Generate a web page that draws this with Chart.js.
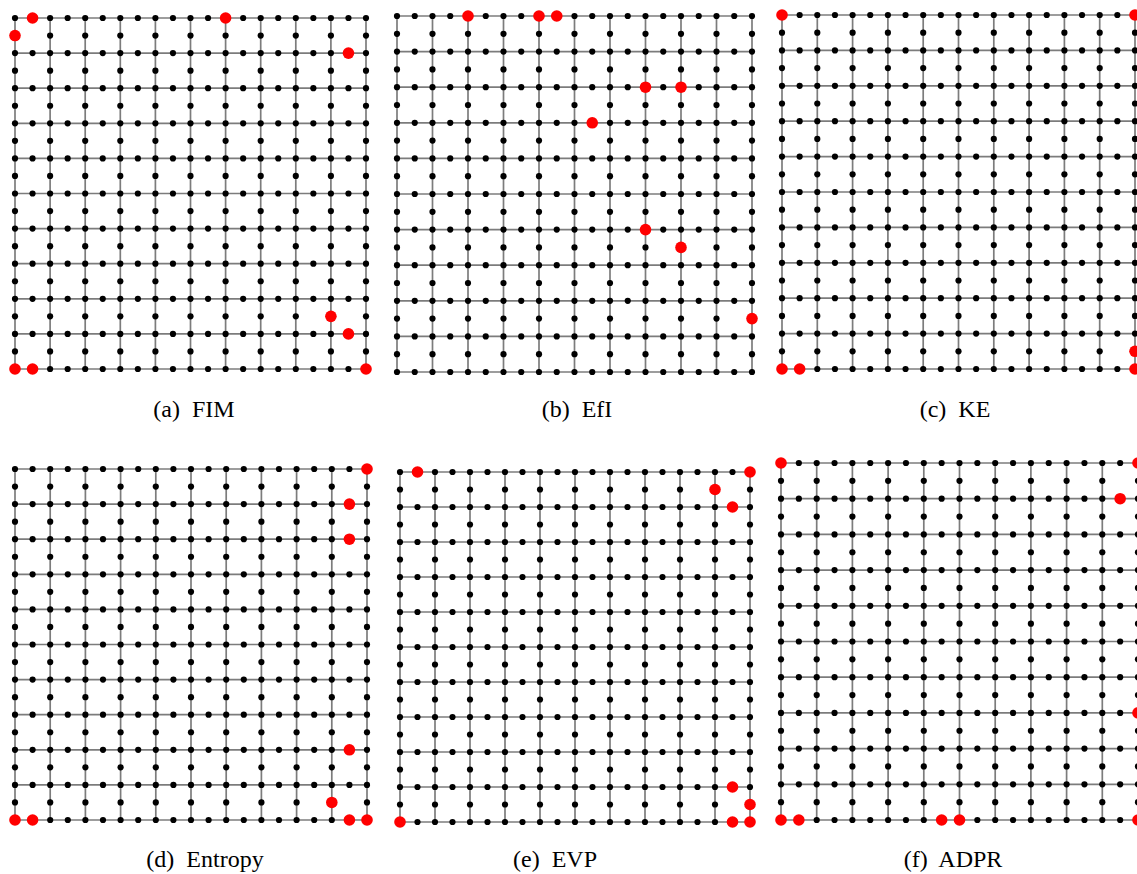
<!DOCTYPE html>
<html><head><meta charset="utf-8">
<script src="https://cdn.jsdelivr.net/npm/chart.js@4.4.0/dist/chart.umd.min.js"></script>
<style>
html,body{margin:0;padding:0;background:#fff;width:1137px;height:874px;overflow:hidden;position:relative}
canvas{position:absolute}
.cap{position:absolute;font-family:"Liberation Serif","DejaVu Serif",serif;font-size:24px;color:#000;transform:translate(-50%,-50%);white-space:pre;line-height:1}
</style></head><body>
<script>
// Lattice: 11x11 grid with every edge subdivided -> 21x21 positions (col,row), row 0 at top
const gridMax = 20;

// Panel captions
const captions = ['(a)  FIM', '(b)  EfI', '(c)  KE', '(d)  Entropy', '(e)  EVP', '(f)  ADPR'];

// Highlighted (red) nodes per panel as [col,row]
const redFIM     = [[1,0],[0,1],[12,0],[19,2],[18,17],[19,18],[0,20],[1,20],[20,20]];
const redEfI     = [[4,0],[8,0],[9,0],[14,4],[16,4],[11,6],[14,12],[16,13],[20,17]];
const redKE      = [[0,0],[20,0],[20,19],[20,20],[0,20],[1,20]];
const redEntropy = [[20,0],[19,2],[19,4],[19,16],[18,19],[0,20],[1,20],[19,20],[20,20]];
const redEVP     = [[1,0],[20,0],[18,1],[19,2],[19,18],[20,19],[0,20],[19,20],[20,20]];
const redADPR    = [[0,0],[20,0],[19,2],[20,14],[0,20],[1,20],[9,20],[10,20],[20,20]];
const redSets = [redFIM, redEfI, redKE, redEntropy, redEVP, redADPR];

// Layout: plot area of each panel in page pixels [left, top, right, bottom]
const boxes = [
  [15, 18, 366, 369],
  [397, 16, 752, 372],
  [782, 15, 1135, 369],
  [15, 469, 367, 820],
  [400, 472, 750, 822],
  [781, 463, 1138, 820]
];
const capPos = [[194,409],[577,409],[955,409],[205,859],[555,859],[953,859]];

// Lattice nodes: positions where column or row index is even
function latticeNodes(){
  const pts=[];
  for(let r=0;r<=gridMax;r++) for(let c=0;c<=gridMax;c++){
    if(r%2===0||c%2===0) pts.push({x:c,y:r});
  }
  return pts;
}
function latticeLines(){
  const ds=[];
  for(let k=0;k<=gridMax;k+=2){
    ds.push([{x:0,y:k},{x:gridMax,y:k}]);
    ds.push([{x:k,y:0},{x:k,y:gridMax}]);
  }
  return ds;
}

const pad = 8;
boxes.forEach((b,i)=>{
  const cv=document.createElement('canvas');
  const w=b[2]-b[0]+2*pad, h=b[3]-b[1]+2*pad;
  cv.width=w; cv.height=h;
  cv.style.left=(b[0]-pad)+'px'; cv.style.top=(b[1]-pad)+'px';
  cv.style.width=w+'px'; cv.style.height=h+'px';
  document.body.appendChild(cv);
  const datasets=[];
  datasets.push({data:redSets[i].map(p=>({x:p[0],y:p[1]})),pointRadius:5.8,pointBackgroundColor:'#ff0000',pointBorderWidth:0,showLine:false,order:0,clip:false});
  datasets.push({data:latticeNodes(),pointRadius:3.1,pointBackgroundColor:'#000',pointBorderWidth:0,showLine:false,order:1,clip:false});
  latticeLines().forEach(l=>datasets.push({data:l,showLine:true,borderColor:'rgba(80,80,80,0.75)',borderWidth:1.7,pointRadius:0,order:2,clip:false}));
  new Chart(cv,{type:'scatter',data:{datasets},options:{
    responsive:false,animation:false,events:[],
    layout:{padding:pad},
    plugins:{legend:{display:false},tooltip:{enabled:false}},
    scales:{x:{type:'linear',min:0,max:gridMax,display:false},y:{type:'linear',min:0,max:gridMax,reverse:true,display:false}}
  }});
  const d=document.createElement('div');
  d.className='cap'; d.textContent=captions[i];
  d.style.left=capPos[i][0]+'px'; d.style.top=capPos[i][1]+'px';
  document.body.appendChild(d);
});
</script>
</body></html>
